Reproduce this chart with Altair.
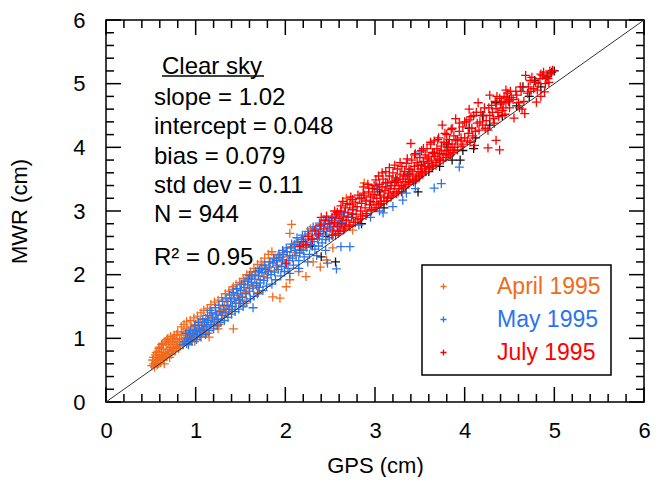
import altair as alt
import pandas as pd

FONT = "Liberation Sans, Arial, sans-serif"
PLUS = "M-1,0H1M0,-1V1"

# ---------------- data ----------------
series_names = ["April 1995", "May 1995", "July 1995"]
series_colors = ["#F26B1D", "#2B74F0", "#FF0000"]

april = [
    (0.51, 0.57), (0.53, 0.60), (0.54, 0.55), (0.55, 0.65), (0.56, 0.62), (0.57, 0.70), (0.58, 0.66),
    (0.59, 0.61), (0.60, 0.73), (0.60, 0.86), (0.61, 0.68), (0.62, 0.78), (0.63, 0.72), (0.64, 0.83),
    (0.65, 0.69), (0.66, 0.77), (0.67, 0.90), (0.68, 0.74), (0.69, 0.82), (0.70, 0.93), (0.71, 0.79),
    (0.72, 0.86), (0.73, 0.75), (0.74, 0.95), (0.75, 0.84), (0.76, 0.90), (0.77, 0.80), (0.78, 0.98),
    (0.79, 0.87), (0.80, 0.93), (0.82, 1.00), (0.83, 0.88), (0.84, 1.05), (0.85, 0.95), (0.86, 1.10),
    (0.88, 0.98), (0.89, 1.07), (0.90, 1.15), (0.91, 1.02), (0.92, 1.12), (0.93, 0.96), (0.94, 1.03),
    (0.95, 1.18), (0.96, 1.06), (0.97, 1.14), (0.99, 1.04), (1.00, 1.22), (1.01, 1.10), (1.03, 1.17),
    (1.04, 1.05), (1.05, 1.27), (1.05, 1.03), (1.07, 1.15), (1.08, 1.22), (1.10, 1.12), (1.11, 1.31),
    (1.12, 1.08), (1.13, 1.20), (1.14, 1.08), (1.16, 1.35), (1.18, 1.25), (1.20, 1.18), (1.22, 1.40),
    (1.24, 1.30), (1.26, 1.22), (1.28, 1.44), (1.30, 1.36), (1.32, 1.50), (1.34, 1.42), (1.36, 1.58),
    (1.38, 1.46), (1.40, 1.64), (1.42, 1.81), (1.42, 1.15), (1.44, 1.55), (1.46, 1.70), (1.48, 1.60),
    (1.50, 1.76), (1.52, 1.66), (1.54, 1.85), (1.56, 1.72), (1.58, 1.90), (1.60, 1.78), (1.62, 1.95),
    (1.64, 1.82), (1.66, 2.00), (1.68, 1.86), (1.70, 2.05), (1.72, 1.92), (1.75, 2.15), (1.76, 1.97),
    (1.78, 2.10), (1.80, 2.00), (1.82, 2.20), (1.84, 2.06), (1.86, 1.65), (1.88, 2.25), (1.90, 2.12),
    (1.92, 2.30), (1.94, 1.63), (1.96, 2.20), (1.98, 2.35), (2.01, 1.81), (2.02, 2.28), (2.05, 2.65),
    (2.05, 1.92), (2.07, 2.44), (2.07, 2.79), (2.10, 2.35), (2.12, 2.50), (2.15, 2.05), (2.18, 2.40),
    (2.23, 1.97), (2.25, 2.55), (2.28, 2.72), (2.31, 2.20), (2.35, 2.62), (2.39, 2.12), (2.46, 2.23),
    (2.53, 2.42), (2.60, 2.75), (2.68, 3.20), (2.75, 2.70), (2.88, 3.44),
    (0.52, 0.66), (0.55, 0.74), (0.57, 0.58), (0.58, 0.80), (0.61, 0.62), (0.62, 0.90), (0.64, 0.66),
    (0.66, 0.95), (0.67, 0.71), (0.69, 1.00), (0.70, 0.76), (0.72, 1.03), (0.74, 0.80), (0.76, 1.05),
    (0.78, 0.85), (0.80, 1.10), (0.82, 0.90), (0.84, 1.18), (0.87, 1.22), (0.90, 1.26), (0.94, 1.28),
    (0.98, 1.32), (1.02, 1.35), (1.06, 1.40), (1.09, 1.44), (1.13, 1.47), (1.17, 1.53), (1.21, 1.57),
    (1.25, 1.60), (1.29, 1.64), (1.33, 1.70), (1.37, 1.74), (1.41, 1.77), (1.45, 1.84), (1.49, 1.88),
    (1.53, 1.94), (1.57, 2.00), (1.61, 2.04), (1.65, 2.10), (1.69, 2.16), (1.73, 2.20), (1.77, 2.26),
    (1.81, 2.32), (1.85, 2.36), (1.40, 1.45), (1.55, 1.55), (1.70, 1.72), (1.15, 1.02), (1.25, 1.15),
    (0.99, 0.95), (0.53, 0.70), (0.56, 0.78), (0.59, 0.84), (0.63, 0.92), (0.65, 0.60), (0.68, 0.98),
    (0.71, 0.70), (0.75, 1.00), (0.79, 1.06), (0.81, 0.84),
]

may = [
    (0.86, 0.90), (0.88, 0.95), (0.90, 0.92), (0.91, 1.00), (0.93, 1.05), (0.95, 0.98), (0.97, 1.08),
    (0.98, 1.02), (1.00, 1.12), (1.02, 1.06), (1.04, 1.15), (1.05, 1.10), (1.07, 1.20), (1.09, 1.13),
    (1.10, 1.25), (1.12, 1.18), (1.14, 1.28), (1.16, 1.44), (1.17, 1.22), (1.19, 1.32), (1.21, 1.27),
    (1.23, 1.38), (1.25, 1.30), (1.27, 1.42), (1.29, 1.36), (1.31, 1.46), (1.33, 1.40), (1.35, 1.52),
    (1.37, 1.45), (1.39, 1.58), (1.41, 1.50), (1.43, 1.62), (1.45, 1.55), (1.47, 1.68), (1.49, 1.60),
    (1.50, 1.75), (1.52, 1.64), (1.54, 1.80), (1.56, 1.70), (1.58, 1.84), (1.60, 1.99), (1.60, 1.74),
    (1.62, 1.88), (1.64, 1.48), (1.64, 1.79), (1.66, 1.93), (1.68, 1.83), (1.70, 1.98), (1.71, 2.07),
    (1.72, 1.87), (1.74, 2.03), (1.76, 1.91), (1.78, 2.08), (1.80, 1.95), (1.82, 2.12), (1.84, 2.00),
    (1.86, 2.18), (1.88, 2.04), (1.90, 2.22), (1.92, 2.08), (1.94, 2.27), (1.96, 2.13), (1.97, 2.23),
    (1.98, 2.32), (2.00, 2.17), (2.02, 2.36), (2.04, 2.22), (2.05, 2.02), (2.06, 2.42), (2.08, 2.26),
    (2.10, 2.47), (2.12, 2.30), (2.14, 2.52), (2.15, 2.10), (2.16, 2.39), (2.16, 2.34), (2.18, 2.55),
    (2.20, 2.38), (2.22, 2.60), (2.24, 2.43), (2.25, 2.20), (2.26, 2.64), (2.28, 2.47), (2.30, 2.68),
    (2.32, 2.52), (2.34, 2.72), (2.35, 2.30), (2.36, 2.56), (2.38, 2.81), (2.38, 2.60), (2.40, 2.76),
    (2.42, 2.64), (2.44, 2.80), (2.45, 2.38), (2.46, 2.68), (2.47, 2.18), (2.48, 2.85), (2.50, 2.72),
    (2.52, 2.88), (2.54, 2.75), (2.56, 2.92), (2.57, 2.09), (2.58, 2.78), (2.60, 2.95), (2.62, 2.44),
    (2.64, 2.82), (2.66, 2.98), (2.68, 2.86), (2.72, 2.44), (2.76, 3.05), (2.82, 2.78), (2.85, 3.20),
    (2.90, 3.15), (2.95, 2.90), (3.00, 3.25), (3.02, 3.38), (3.05, 3.00), (3.09, 2.97), (3.12, 3.38),
    (3.20, 3.07), (3.25, 3.50), (3.31, 3.17), (3.35, 3.28), (3.38, 3.62), (3.45, 3.35), (3.50, 3.93),
    (3.56, 3.70), (3.60, 3.78), (3.66, 3.36), (3.74, 3.43), (3.80, 3.90), (3.94, 3.69),
    (0.89, 1.08), (0.92, 0.90), (0.94, 1.12), (0.96, 0.95), (0.99, 1.20), (1.01, 0.98), (1.03, 1.25),
    (1.06, 1.02), (1.08, 1.30), (1.11, 1.06), (1.13, 1.36), (1.15, 1.12), (1.18, 1.40), (1.20, 1.15),
    (1.22, 1.48), (1.24, 1.20), (1.26, 1.52), (1.28, 1.25), (1.30, 1.58), (1.32, 1.28), (1.34, 1.62),
    (1.36, 1.33), (1.38, 1.68), (1.40, 1.38), (1.42, 1.72), (1.44, 1.42), (1.46, 1.78), (1.48, 1.46),
    (1.50, 1.55), (1.51, 1.85), (1.53, 1.50), (1.55, 1.90), (1.57, 1.58), (1.59, 1.93), (1.61, 1.62),
    (1.63, 1.98), (1.65, 1.66), (1.67, 2.05), (1.69, 1.70), (1.71, 1.80), (1.73, 2.10), (1.75, 1.75),
    (1.77, 2.15), (1.79, 1.82), (1.81, 2.05), (1.83, 2.20), (1.85, 1.85), (1.87, 2.26), (1.89, 1.92),
    (1.91, 2.15), (1.93, 2.32), (1.95, 1.98), (1.97, 2.38), (1.99, 2.05), (2.01, 2.42), (2.03, 2.10),
    (2.05, 2.30), (2.07, 2.48), (2.09, 2.15), (2.11, 2.38), (2.13, 2.58), (2.15, 2.22), (2.17, 2.46),
    (2.19, 2.62), (2.21, 2.28), (2.23, 2.50), (2.25, 2.68), (2.27, 2.32), (2.29, 2.56), (2.31, 2.75),
    (2.33, 2.40), (2.35, 2.62), (2.37, 2.45), (2.39, 2.68), (2.41, 2.50), (2.43, 2.86), (2.45, 2.55),
    (2.47, 2.75), (2.49, 2.58), (2.51, 2.80), (2.53, 2.62), (2.55, 2.85), (2.59, 2.68), (2.63, 2.90),
    (2.67, 2.75), (2.70, 2.92),
]

july = [
    (2.01, 2.18), (2.16, 2.44), (2.20, 2.52), (2.23, 2.47), (2.26, 2.60), (2.30, 2.56), (2.33, 2.70),
    (2.37, 2.64), (2.39, 2.78), (2.40, 2.90), (2.43, 2.72), (2.45, 2.85), (2.46, 2.92), (2.49, 2.80),
    (2.52, 2.90), (2.52, 2.62), (2.53, 2.70), (2.55, 2.82), (2.55, 3.00), (2.56, 2.62), (2.57, 2.95),
    (2.58, 2.76), (2.58, 2.98), (2.59, 2.65), (2.60, 2.88), (2.61, 2.68), (2.62, 3.00), (2.62, 3.08),
    (2.63, 2.80), (2.64, 3.15), (2.65, 2.92), (2.65, 2.70), (2.66, 2.72), (2.67, 3.05), (2.68, 2.85),
    (2.69, 3.12), (2.70, 2.97), (2.71, 2.78), (2.72, 3.10), (2.72, 2.76), (2.73, 3.22), (2.74, 2.90),
    (2.75, 3.02), (2.75, 3.18), (2.76, 2.82), (2.78, 3.14), (2.78, 2.82), (2.79, 2.95), (2.80, 3.07),
    (2.81, 2.86), (2.81, 3.25), (2.83, 3.20), (2.84, 3.00), (2.84, 2.88), (2.85, 3.12), (2.86, 2.92),
    (2.87, 3.38), (2.87, 3.28), (2.88, 3.25), (2.89, 3.05), (2.90, 3.17), (2.90, 2.93), (2.91, 2.96),
    (2.92, 3.42), (2.93, 3.30), (2.93, 3.36), (2.94, 3.10), (2.95, 3.22), (2.96, 3.00), (2.96, 3.02),
    (2.97, 3.35), (2.98, 3.14), (2.99, 3.26), (2.99, 3.40), (3.00, 3.05), (3.01, 3.49), (3.02, 3.20),
    (3.02, 3.05), (3.03, 3.34), (3.04, 3.10), (3.04, 3.55), (3.05, 3.42), (3.06, 3.25), (3.06, 3.12),
    (3.07, 3.15), (3.08, 3.38), (3.08, 3.60), (3.09, 3.50), (3.10, 3.22), (3.10, 3.15), (3.11, 3.32),
    (3.12, 3.62), (3.12, 3.45), (3.13, 3.16), (3.14, 3.44), (3.14, 3.20), (3.15, 3.28), (3.16, 3.55),
    (3.16, 3.68), (3.17, 3.35), (3.18, 3.22), (3.18, 3.40), (3.19, 3.47), (3.20, 3.60), (3.20, 3.25),
    (3.21, 3.30), (3.22, 3.40), (3.22, 3.72), (3.23, 3.52), (3.24, 3.27), (3.24, 3.48), (3.25, 3.66),
    (3.26, 3.45), (3.26, 3.30), (3.27, 3.35), (3.28, 3.58), (3.28, 3.76), (3.29, 3.40), (3.30, 3.70),
    (3.30, 3.40), (3.31, 3.50), (3.32, 3.36), (3.32, 3.55), (3.33, 3.62), (3.34, 3.46), (3.34, 3.38),
    (3.35, 3.75), (3.36, 3.55), (3.36, 3.82), (3.37, 3.42), (3.38, 3.66), (3.38, 3.45), (3.39, 3.50),
    (3.40, 4.06), (3.40, 3.65), (3.41, 3.80), (3.42, 3.58), (3.42, 3.48), (3.43, 3.46), (3.44, 3.70),
    (3.44, 3.88), (3.45, 3.90), (3.46, 3.55), (3.46, 3.50), (3.47, 3.76), (3.48, 3.62), (3.48, 3.72),
    (3.49, 3.52), (3.50, 3.84), (3.50, 3.55), (3.51, 3.66), (3.52, 3.95), (3.52, 3.60), (3.53, 3.58),
    (3.54, 3.78), (3.54, 3.98), (3.55, 3.70), (3.56, 3.88), (3.56, 3.62), (3.57, 3.62), (3.58, 3.98),
    (3.58, 3.82), (3.59, 3.75), (3.60, 3.85), (3.60, 3.66), (3.61, 3.68), (3.62, 4.05), (3.62, 4.08),
    (3.63, 3.80), (3.64, 3.92), (3.64, 3.70), (3.65, 3.72), (3.66, 4.10), (3.66, 3.92), (3.67, 3.86),
    (3.68, 3.76), (3.68, 3.72), (3.69, 3.98), (3.70, 3.82), (3.70, 4.12), (3.71, 4.15), (3.72, 3.90),
    (3.72, 3.80), (3.73, 3.79), (3.74, 4.02), (3.74, 3.95), (3.75, 4.35), (3.76, 3.88), (3.76, 3.80),
    (3.77, 4.08), (3.78, 3.95), (3.78, 4.22), (3.79, 3.84), (3.80, 4.20), (3.80, 3.88), (3.81, 4.00),
    (3.82, 3.90), (3.82, 4.05), (3.83, 4.12), (3.84, 3.96), (3.84, 3.88), (3.85, 4.28), (3.86, 4.05),
    (3.86, 4.30), (3.87, 3.92), (3.88, 4.18), (3.88, 3.95), (3.89, 4.00), (3.90, 4.45), (3.90, 4.12),
    (3.92, 4.10), (3.92, 3.96), (3.94, 4.25), (3.94, 4.38), (3.96, 4.02), (3.96, 4.15), (3.98, 4.32),
    (3.98, 4.05), (4.00, 4.15), (4.00, 4.40), (4.02, 4.40), (4.03, 4.10), (4.04, 4.22), (4.05, 4.43),
    (4.05, 4.60), (4.06, 4.08), (4.07, 4.48), (4.08, 4.30), (4.09, 4.18), (4.10, 4.50), (4.11, 4.03),
    (4.12, 4.25), (4.13, 4.55), (4.14, 4.38), (4.15, 4.70), (4.16, 4.27), (4.17, 4.40), (4.18, 4.55),
    (4.20, 4.35), (4.21, 4.50), (4.22, 4.62), (4.23, 4.30), (4.24, 4.42), (4.26, 3.99), (4.26, 4.27),
    (4.27, 4.62), (4.28, 4.50), (4.28, 4.82), (4.30, 4.66), (4.31, 4.55), (4.32, 4.45), (4.33, 4.38),
    (4.34, 4.72), (4.35, 4.11), (4.35, 4.61), (4.36, 4.80), (4.37, 4.55), (4.38, 4.48), (4.39, 4.77),
    (4.39, 3.96), (4.40, 4.68), (4.41, 4.72), (4.42, 4.58), (4.43, 4.62), (4.44, 4.80), (4.45, 4.52),
    (4.46, 4.70), (4.46, 4.90), (4.47, 4.78), (4.48, 4.85), (4.49, 4.72), (4.50, 4.62), (4.51, 4.88),
    (4.52, 4.78), (4.54, 4.75), (4.55, 4.46), (4.57, 4.88), (4.58, 4.82), (4.60, 4.70), (4.61, 4.62),
    (4.62, 4.95), (4.63, 4.88), (4.64, 4.60), (4.66, 4.72), (4.67, 4.53), (4.68, 5.13), (4.70, 4.85),
    (4.71, 4.95), (4.73, 5.05), (4.74, 4.88), (4.75, 5.10), (4.77, 4.92), (4.79, 5.02), (4.80, 4.71),
    (4.81, 4.90), (4.82, 5.00), (4.84, 5.08), (4.85, 5.15), (4.85, 4.80), (4.87, 5.13), (4.88, 5.18),
    (4.89, 4.87), (4.90, 5.00), (4.91, 5.10), (4.93, 5.08), (4.94, 5.02), (4.95, 5.20), (4.96, 5.16),
    (4.98, 5.21),
]

# points plotted in black (no legend entry), partly hidden under the coloured ones
other = [
    (2.30, 2.45), (2.40, 2.28), (2.45, 2.60), (2.56, 2.20), (2.62, 2.80), (2.75, 2.95), (2.85, 2.80),
    (2.95, 3.15), (3.05, 3.30), (3.10, 3.05), (3.22, 3.45), (3.30, 3.30), (3.38, 3.58), (3.45, 3.48),
    (3.48, 3.30), (3.52, 3.72), (3.60, 3.62), (3.66, 3.90), (3.72, 3.70), (3.80, 4.05), (3.86, 3.80),
    (3.92, 4.12), (3.95, 3.80), (3.98, 3.95), (4.05, 4.30), (4.10, 3.98), (4.12, 4.15), (4.20, 4.50),
    (4.28, 4.35), (4.35, 4.70), (4.42, 4.50), (4.50, 4.75), (4.58, 4.65), (4.65, 4.95), (4.72, 4.80),
    (4.78, 5.05), (4.85, 4.95), (4.92, 5.12), (4.97, 5.18), (5.00, 5.20),
]

one_to_one = [0, 6]
major_ticks = [0, 1, 2, 3, 4, 5, 6]
minor_ticks = [0.2, 0.4, 0.6, 0.8, 1.2, 1.4, 1.6, 1.8, 2.2, 2.4, 2.6, 2.8, 3.2, 3.4, 3.6, 3.8,
               4.2, 4.4, 4.6, 4.8, 5.2, 5.4, 5.6, 5.8]

stats_title = "Clear sky"
stats_lines = ["slope = 1.02", "intercept = 0.048", "bias = 0.079", "std dev = 0.11", "N = 944"]
r2_line = "R\u00b2 = 0.95"

# ---------------- layout ----------------
W, H = 538, 382
MAJOR_LEN, MINOR_LEN = 15, 8

rows = []
for name, pts in zip(series_names, [april, may, july]):
    for gx, my in pts:
        rows.append({"gps": gx, "mwr": my, "month": name})
df = pd.DataFrame(rows)
df_other = pd.DataFrame(other, columns=["gps", "mwr"])
df_line = pd.DataFrame({"gps": one_to_one, "mwr": one_to_one})

xscale = alt.Scale(domain=[0, 6], nice=False, zero=False)
yscale = alt.Scale(domain=[0, 6], nice=False, zero=False)

axis_common = dict(
    values=major_ticks, format="d", ticks=False, tickSize=0, domain=False, grid=False,
    labelFontSize=22, labelFont=FONT, labelColor="black", labelFlush=False, labelOverlap=False,
    titleFontSize=22, titleFont=FONT, titleColor="black", titleFontWeight="normal",
)

label_color_expr = (
    f"datum.value == '{series_names[0]}' ? '{series_colors[0]}' : "
    f"(datum.value == '{series_names[1]}' ? '{series_colors[1]}' : '{series_colors[2]}')"
)

points = alt.Chart(df).mark_point(
    shape=PLUS, filled=False, size=81, strokeWidth=1.3, opacity=1
).encode(
    x=alt.X("gps:Q", scale=xscale,
            axis=alt.Axis(title="GPS (cm)", labelPadding=18, titlePadding=14, **axis_common)),
    y=alt.Y("mwr:Q", scale=yscale,
            axis=alt.Axis(title="MWR (cm)", labelPadding=21, titlePadding=41, **axis_common)),
    color=alt.Color(
        "month:N",
        scale=alt.Scale(domain=series_names, range=series_colors),
        legend=alt.Legend(
            title=None, orient="none", legendX=316, legendY=245, direction="vertical",
            strokeColor="black", padding=10, symbolType=PLUS, symbolSize=36,
            symbolStrokeWidth=1.3, symbolOffset=0, labelFontSize=23, labelFont=FONT,
            labelOffset=42, rowPadding=9, labelLimit=0,
            labelColor={"expr": label_color_expr},
        ),
    ),
)

black_pts = alt.Chart(df_other).mark_point(
    shape=PLUS, filled=False, size=81, strokeWidth=1.3, color="#111111", opacity=1
).encode(x=alt.X("gps:Q", scale=xscale), y=alt.Y("mwr:Q", scale=yscale))

diag = alt.Chart(df_line).mark_line(color="#333333", strokeWidth=1).encode(
    x=alt.X("gps:Q", scale=xscale), y=alt.Y("mwr:Q", scale=yscale)
)

df_major = pd.DataFrame({"v": major_ticks})
df_minor = pd.DataFrame({"v": minor_ticks})

tick_layers = []
for dfl, L in [(df_major, MAJOR_LEN), (df_minor, MINOR_LEN)]:
    base = alt.Chart(dfl).mark_rule(color="black", strokeWidth=1.5)
    tick_layers += [
        base.encode(x=alt.X("v:Q", scale=xscale), y=alt.value(H), y2=alt.value(H - L)),
        base.encode(x=alt.X("v:Q", scale=xscale), y=alt.value(0), y2=alt.value(L)),
        base.encode(y=alt.Y("v:Q", scale=yscale), x=alt.value(0), x2=alt.value(L)),
        base.encode(y=alt.Y("v:Q", scale=yscale), x=alt.value(W), x2=alt.value(W - L)),
    ]

text_layers = []
def txt(s, x, y, size=24):
    return alt.Chart(pd.DataFrame({"t": [s]})).mark_text(
        align="left", baseline="alphabetic", fontSize=size, font=FONT, color="black"
    ).encode(text="t:N", x=alt.value(x), y=alt.value(y))

text_layers.append(txt(stats_title, 56, 53.5))
text_layers.append(
    alt.Chart(pd.DataFrame({"t": [stats_title]})).mark_rule(color="black", strokeWidth=1.3).encode(
        x=alt.value(56), x2=alt.value(158), y=alt.value(56)
    )
)
for i, s in enumerate(stats_lines):
    text_layers.append(txt(s, 48, 85 + i * 29.25))
text_layers.append(txt(r2_line, 48, 245))

chart = alt.layer(
    *tick_layers, black_pts, points, diag, *text_layers
).properties(
    width=W, height=H,
    autosize=alt.AutoSizeParams(type="none"),
    padding={"left": 98, "top": 12, "right": 12, "bottom": 75},
).configure_view(
    stroke="black", strokeWidth=1.5
).configure_legend(
    strokeWidth=1.5
)

chart.save("out.html", embed_options={"renderer": "svg", "actions": False})
